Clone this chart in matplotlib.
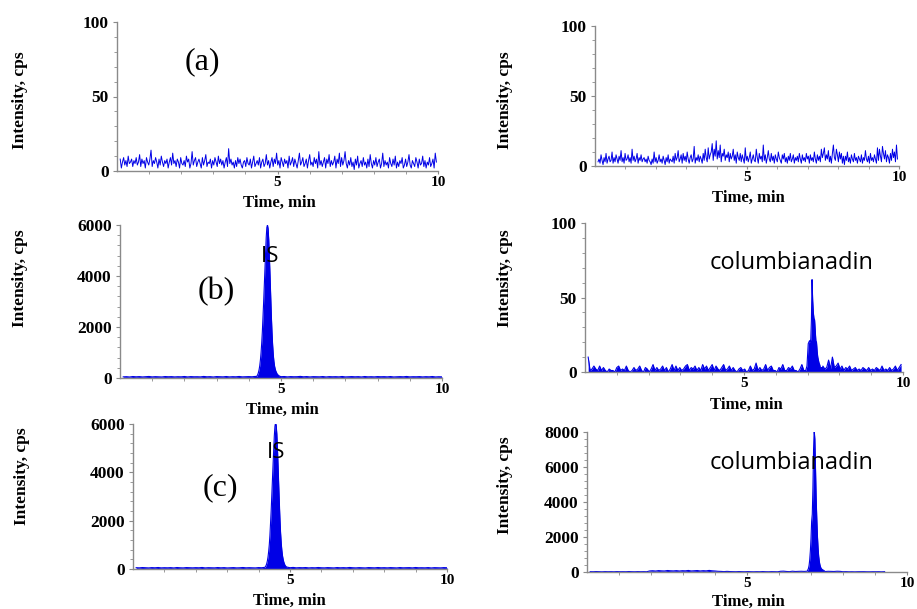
import numpy as np
import matplotlib
matplotlib.use("Agg")
import matplotlib.pyplot as plt
from matplotlib.ticker import AutoMinorLocator, FixedLocator

# ---------------- data ----------------
# (a) left: blank, IS channel, noise 0.1-9.95 min
a_left_noise = [8,2,6,9,4,7,3,10,5,6,8,3,7,5,9,4,6,11,3,8,5,7,2,9,6,4,8,14,3,7,5,9,6,2,8,4,10,6,3,7,
                5,8,2,6,9,4,12,5,7,3,8,6,2,9,5,4,7,3,10,6,8,2,5,13,4,7,9,3,6,8,5,2,9,4,7,11,3,6,5,8,
                2,7,4,9,6,3,10,5,8,4,7,2,6,9,3,15,5,8,4,6,2,7,3,9,5,8,4,2,6,7,3,9,5,4,8,2,6,10,3,5,
                7,4,9,2,6,8,3,5,11,4,7,2,6,9,3,8,5,12,4,7,2,9,6,3,8,5,7,2,10,4,6,9,3,8,5,2,7,12,4,6,
                9,3,5,8,2,7,11,4,6,3,9,5,8,2,13,4,7,3,6,9,2,8,5,11,3,7,4,6,10,2,8,5,12,3,9,4,7,13,
                5,2,7,4,9,3,6,1,8,4,10,2,5,7,3,9,4,6,2,8,3,11,5,2,7,4,9,3,6,8,2,5,12,3,7,4,6,2,9,5,
                3,8,4,10,2,6,3,7,5,9,2,4,8,3,6,11,4,2,7,5,3,9,6,2,8,4,5,10,3,7,2,6,4,9,3,5,8,2,12,6]
# (a) right: blank, analyte channel (slightly raised around 3.5-4.5 min)
a_right_noise = [3,5,2,8,4,1,6,3,9,2,5,7,3,4,10,2,6,3,8,5,2,7,4,11,3,6,2,9,4,5,8,3,6,2,12,4,7,3,5,9,
                 2,6,4,8,3,5,
                 6,3,5,2,7,4,3,1,5,2,10,3,6,2,4,8,3,5,2,7,4,1,6,3,8,2,5,4,3,7,2,9,4,6,11,3,5,8,2,9,
                 4,7,3,10,5,2,6,8,3,5,14,2,6,4,8,3,7,5,2,9,4,12,6,3,13,5,8,10,16,4,12,7,18,5,11,6,15,3,9,7,
                 12,4,8,6,10,3,9,5,7,12,4,8,2,10,6,4,9,3,8,5,2,13,4,7,3,6,10,2,5,8,4,3,12,6,2,9,5,7,3,15,
                 4,8,2,6,11,5,3,9,4,7,2,8,5,3,10,6,4,2,8,5,9,3,6,2,7,4,9,3,5,8,2,6,4,7,3,9,5,2,8,4,
                 6,3,9,5,7,2,8,4,6,3,10,5,2,8,4,7,3,12,6,9,13,4,8,5,11,3,7,2,9,15,6,4,12,8,3,10,5,9,2,7,
                 1,7,4,10,3,6,2,8,5,3,9,4,6,2,7,5,3,8,2,6,4,11,5,3,7,2,9,4,6,3,8,5,2,13,4,12,7,3,14,9,
                 5,11,3,8,6,2,9,4,12,6,10,3,15,5]

# (b) left: IS peak
b_left_base = [45,52,40,58,47,55,42,50,60,44,53,48,41,57,49,54,43,51,46,59,
               42,55,48,50,44,61,47,53,40,56,49,45,58,43,52,47,60,45,51,55,
               48,62,50,44,57,49,53,46,60,52,58,44,55,49,51,63,47,56,42,53,
               50,46,57,41,54,48,52,45,59,43,50,55,47,53,41,58,46,51,44,56,
               49,53,45,57,42,50,54,47,60,44,51,48,55,43,52,46,58,42,50,45]
b_left_peak_t = [4.24,4.26,4.28,4.30,4.32,4.34,4.36,4.38,4.40,4.42,4.44,4.46,4.48,4.50,4.52,4.54,4.56,4.58,4.60,
                 4.62,4.64,4.66,4.68,4.70,4.72,4.74,4.76,4.78,4.80,4.82,4.84,4.86,4.88,4.90,4.92,4.94,4.96]
b_left_peak_y = [60,90,140,220,330,480,700,980,1350,1800,2350,2950,3600,4300,4950,5500,5900,6000,5850,
                 5400,4750,4000,3200,2450,1800,1300,920,650,470,350,270,210,160,130,105,85,70]

# (b) right: analyte (LLOQ-like)
b_right_noise = [10,1,2,4,2,1,4,1,3,1,0,2,1,1,0,3,4,1,2,1,4,1,0,1,3,1,2,4,1,0,
                 3,2,0,2,5,1,3,1,2,4,1,3,0,2,5,1,4,1,3,1,2,4,5,1,3,2,4,1,3,1,
                 5,2,4,1,3,5,1,4,2,1,3,5,1,2,4,1,3,1,0,2,3,1,2,0,1,4,1,2,6,1,
                 3,1,2,5,1,3,4,1,1,0,3,2,5,1,1,3,2,4,1,1,0,2,5,1,1,2,1,2,1,2,
                 1,2,1,4,2,3,8,2,10,3,4,6,2,4,1,3,2,4,1,2,3,1,2,1,3,2,1,3,1,2,
                 1,3,2,1,4,1,2,1,3,1,2,4,1,3,5]
b_right_peak_t = [6.98,7.00,7.02,7.04,7.06,7.08,7.10,7.12,7.14,7.16,7.18,7.20,7.22,
                  7.24,7.26,7.28,7.30,7.32,7.34,7.36,7.38,7.40,7.42,7.44,7.46]
b_right_peak_y = [4,12,19,20,21,20,22,35,62,48,40,36,35,28,21,20,14,10,8,6,5,3,2,3,1]

# (c) left: IS peak
c_left_base = [55,48,60,52,45,58,50,62,47,54,49,57,44,61,51,46,59,53,48,56,
               50,63,45,55,52,47,60,49,57,44,53,58,46,51,62,48,55,50,45,59,
               52,47,61,54,49,56,44,58,50,53,65,48,57,52,60,46,55,49,62,51,
               47,58,53,45,60,50,56,48,63,52,46,57,51,44,59,53,48,61,50,55,
               47,58,52,45,60,49,54,57,46,62,50,53,48,59,44,56,51,47,58,52]
c_left_peak_t = [4.20,4.22,4.24,4.26,4.28,4.30,4.32,4.34,4.36,4.38,4.40,4.42,4.44,4.46,4.48,4.50,4.52,4.54,
                 4.56,4.58,4.60,4.62,4.64,4.66,4.68,4.70,4.72,4.74,4.76,4.78,4.80,4.82,4.84,4.86,4.88,4.90]
c_left_peak_y = [70,100,150,230,340,500,720,1000,1380,1850,2400,3000,3650,4300,4950,5500,5900,6050,
                 5950,5600,5000,4250,3450,2700,2050,1500,1080,780,560,410,300,220,160,120,95,80]

# (c) right: analyte peak
c_right_base = [20,15,25,18,12,22,16,20,14,24,16,18,15,26,18,14,22,16,20,14,
                60,72,55,80,65,58,85,70,62,78,57,74,66,88,60,71,83,59,76,64,
                90,68,57,40,33,22,36,25,20,16,25,18,14,23,17,13,19,15,26,17,
                14,22,18,13,40,48,30,20,44,29,36,41,33,47,28,38,45,31,35,27,
                40,34,29,43,37,16,21,12,16,10,16,18,19,13,12,17,15,18,11,19]
c_right_peak_t = [6.90,6.92,6.94,6.96,6.98,7.00,7.02,7.04,7.06,7.08,7.10,7.12,7.14,
                  7.16,7.18,7.20,7.22,7.24,7.26,7.28,7.30,7.32,7.34,7.36,7.38,7.40]
c_right_peak_y = [120,200,380,700,1200,1900,2900,3300,4800,7000,8100,7600,6000,
                  4300,3100,2100,1400,900,600,400,280,200,160,130,110,90]

x_ticks = [5, 10]
yticks_100 = [0, 50, 100]
yticks_6000 = [0, 2000, 4000, 6000]
yticks_8000 = [0, 2000, 4000, 6000, 8000]

# ---------------- drawing ----------------
W, H = 917, 609
fig = plt.figure(figsize=(W / 100, H / 100), dpi=100)
BLUE = "#0000e6"
GREY = "#8a8a8a"
SERIF = "Liberation Serif"


def px_axes(left, right, top, bottom):
    return fig.add_axes([left / W, 1 - bottom / H, (right - left) / W, (bottom - top) / H])


def to_fig(x, y):
    return x / W, 1 - y / H


def style(ax, ymax, yticks, ylab_xy, xlab_xy):
    ax.set_xlim(0, 10)
    ax.set_ylim(0, ymax)
    for s in ("top", "right"):
        ax.spines[s].set_visible(False)
    for s in ("left", "bottom"):
        ax.spines[s].set_color(GREY)
        ax.spines[s].set_linewidth(1.0)
    ax.xaxis.set_major_locator(FixedLocator(x_ticks))
    ax.xaxis.set_minor_locator(FixedLocator([1, 2, 3, 4, 6, 7, 8, 9]))
    ax.yaxis.set_major_locator(FixedLocator(yticks))
    ax.yaxis.set_minor_locator(AutoMinorLocator(5))
    ax.tick_params(axis="y", which="major", length=3, color=GREY, width=0.8, pad=3)
    ax.tick_params(axis="x", which="major", length=2, color=GREY, width=0.8, pad=1.5)
    ax.tick_params(axis="both", which="minor", length=2, color=GREY, width=0.6)
    for lab in ax.get_yticklabels():
        lab.set_fontfamily(SERIF)
        lab.set_fontweight("bold")
        lab.set_fontsize(12.5)
    for lab in ax.get_xticklabels():
        lab.set_fontfamily(SERIF)
        lab.set_fontweight("bold")
        lab.set_fontsize(11)
    ax.set_xlabel("Time, min", fontfamily=SERIF, fontweight="bold", fontsize=12)
    ax.set_ylabel("Intensity, cps", fontfamily=SERIF, fontweight="bold", fontsize=12.5)
    ax.yaxis.set_label_coords(*to_fig(*ylab_xy), transform=fig.transFigure)
    ax.yaxis.label.set_va("center")
    ax.xaxis.set_label_coords(*to_fig(*xlab_xy), transform=fig.transFigure)
    ax.xaxis.label.set_va("center")


def merged(base, t0, t1, pk_t, pk_y):
    base = np.asarray(base, float)
    tb = np.linspace(t0, t1, len(base))
    keep = (tb < pk_t[0]) | (tb > pk_t[-1])
    t = np.concatenate([tb[keep], np.asarray(pk_t, float)])
    y = np.concatenate([base[keep], np.asarray(pk_y, float)])
    o = np.argsort(t)
    return t[o], y[o]


# (a) left
ax = px_axes(117, 438, 22, 171)
y = np.asarray(a_left_noise, float)
ax.plot(np.linspace(0.1, 9.95, len(y)), y, color=BLUE, lw=0.7)
style(ax, 100, yticks_100, (20, 100), (279, 203))
fig.text(*to_fig(202, 62), "(a)", fontfamily=SERIF, fontsize=23, ha="center", va="center")

# (a) right
ax = px_axes(595, 899, 26, 166)
y = np.asarray(a_right_noise, float)
ax.plot(np.linspace(0.1, 9.95, len(y)), y, color=BLUE, lw=0.7)
style(ax, 100, yticks_100, (505, 100), (748, 198))

# (b) left
ax = px_axes(120, 442, 225, 378)
t, y = merged(b_left_base, 0.1, 10.0, b_left_peak_t, b_left_peak_y)
ax.fill_between(t, 0, y, color=BLUE, lw=0)
ax.plot(t, y, color=BLUE, lw=0.8)
style(ax, 6000, yticks_6000, (20, 278), (282, 410))
fig.text(*to_fig(216, 292), "(b)", fontfamily=SERIF, fontsize=23, ha="center", va="center")
fig.text(*to_fig(270, 257), "IS", fontfamily="Open Sans", fontsize=16, ha="center", va="center")

# (b) right
ax = px_axes(585, 903, 223, 372)
t, y = merged(b_right_noise, 0.1, 9.94, b_right_peak_t, b_right_peak_y)
ax.fill_between(t, 0, y, color=BLUE, lw=0)
ax.plot(t, y, color=BLUE, lw=0.8)
style(ax, 100, yticks_100, (505, 278), (746, 405))
fig.text(*to_fig(792, 263), "columbianadin", fontfamily="Open Sans", fontsize=17,
         ha="center", va="center")

# (c) left
ax = px_axes(133, 447, 424, 569)
t, y = merged(c_left_base, 0.1, 10.0, c_left_peak_t, c_left_peak_y)
ax.fill_between(t, 0, y, color=BLUE, lw=0)
ax.plot(t, y, color=BLUE, lw=0.8)
style(ax, 6000, yticks_6000, (22, 476), (289, 601))
fig.text(*to_fig(220, 488), "(c)", fontfamily=SERIF, fontsize=23, ha="center", va="center")
fig.text(*to_fig(276, 453), "IS", fontfamily="Open Sans", fontsize=16, ha="center", va="center")

# (c) right
ax = px_axes(587, 907, 432, 572)
t, y = merged(c_right_base, 0.1, 9.3, c_right_peak_t, c_right_peak_y)
ax.fill_between(t, 0, y, color=BLUE, lw=0)
ax.plot(t, y, color=BLUE, lw=0.8)
style(ax, 8000, yticks_8000, (505, 485), (748, 602))
fig.text(*to_fig(792, 463), "columbianadin", fontfamily="Open Sans", fontsize=17,
         ha="center", va="center")

fig.savefig("out.png", dpi=100)
